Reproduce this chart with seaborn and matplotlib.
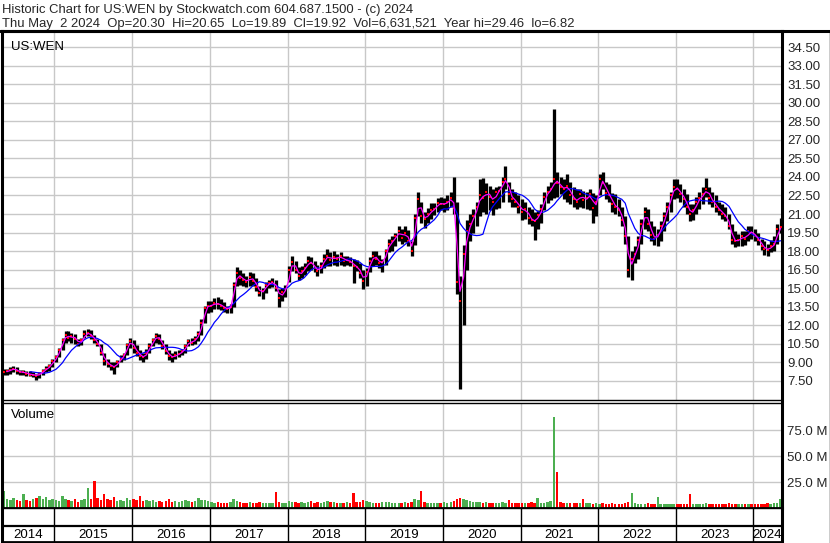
import numpy as np
import pandas as pd
import matplotlib
matplotlib.use("Agg")
import matplotlib.pyplot as plt
import matplotlib.dates as mdates
from matplotlib.lines import Line2D
import seaborn as sns

sns.set_theme(style="white")
plt.rcParams['font.family'] = ['Liberation Sans', 'DejaVu Sans']

# ---------------- data (semi-monthly periods from 2014-05-01) ----------------
period_start = "2014-05-01"

low = [
    # 2014
    8.0, 8.0, 8.1, 8.2, 8.1, 8.0, 8.0, 7.9, 7.9, 7.8, 7.6, 7.7, 8.0, 8.2, 8.3, 8.6,
    # 2015
    9.0, 9.4, 10.0, 10.6, 10.7, 10.6, 10.5, 10.3, 10.4, 11.0, 11.1, 10.9, 10.6, 10.3, 9.6, 8.8,
    8.6, 8.4, 8.1, 8.6, 9.0, 9.2, 9.6, 10.2,
    # 2016
    9.8, 9.5, 9.2, 9.0, 9.3, 9.8, 10.3, 10.6, 10.5, 10.1, 9.7, 9.2, 9.0, 9.3, 9.4, 9.6,
    9.8, 10.3, 10.4, 10.5, 10.7, 11.2, 12.2, 13.0,
    # 2017
    13.1, 13.3, 13.3, 13.2, 13.1, 13.0, 13.0, 13.5, 15.2, 15.3, 15.2, 15.1, 15.2, 15.2, 14.8, 14.4,
    14.1, 14.6, 15.0, 15.1, 14.8, 13.5, 14.0, 14.3,
    # 2018
    15.5, 16.4, 16.2, 15.7, 15.8, 16.1, 16.4, 16.5, 16.3, 16.0, 16.2, 16.6, 16.8, 16.8, 16.9, 16.8,
    16.9, 16.8, 16.9, 16.8, 15.4, 16.4, 15.8, 14.9,
    # 2019
    15.2, 16.3, 16.8, 16.9, 16.6, 16.3, 16.9, 17.9, 18.0, 18.4, 18.8, 18.6, 18.7, 18.4, 17.6, 18.5,
    20.8, 20.3, 19.9, 20.3, 20.6, 20.9, 21.2, 21.3,
    # 2020
    21.2, 21.3, 21.6, 21.0, 14.5, 6.82, 12.0, 16.5, 18.8, 19.5, 20.0, 20.8, 21.2, 21.0, 21.3, 20.9,
    21.4, 21.5, 22.0, 23.0, 22.0, 21.6, 21.6, 21.1,
    # 2021
    20.5, 20.6, 20.2, 20.0, 18.9, 19.8, 20.3, 21.3, 21.9, 22.1, 22.3, 22.4, 22.6, 22.2, 22.0, 21.8,
    21.6, 21.4, 21.6, 21.5, 21.4, 21.3, 20.3, 20.8,
    # 2022
    22.5, 23.0, 22.2, 22.0, 21.2, 21.0, 20.8, 20.0, 18.6, 15.9, 15.7, 17.0, 17.4, 18.6, 19.8, 19.6,
    18.8, 18.5, 18.4, 18.8, 19.6, 20.4, 21.2, 22.2,
    # 2023
    22.3, 22.0, 21.6, 21.0, 20.4, 20.5, 21.0, 21.4, 21.8, 22.4, 21.8, 21.6, 21.2, 20.9, 20.6, 20.4,
    19.8, 18.6, 18.3, 18.4, 18.4, 18.5, 18.8, 19.0,
    # 2024
    18.8, 18.5, 18.1, 17.7, 17.6, 17.9, 18.0, 18.6, 19.5,
]

high = [
    # 2014
    8.5, 8.5, 8.6, 8.7, 8.6, 8.4, 8.4, 8.3, 8.3, 8.2, 8.1, 8.2, 8.5, 8.7, 8.9, 9.3,
    # 2015
    9.6, 10.2, 11.0, 11.5, 11.5, 11.4, 11.3, 10.9, 11.0, 11.6, 11.7, 11.6, 11.2, 10.9, 10.5, 9.8,
    9.3, 9.0, 9.0, 9.2, 9.6, 9.8, 10.6, 11.0,
    # 2016
    10.8, 10.4, 10.0, 9.8, 10.1, 10.6, 11.0, 11.4, 11.3, 10.8, 10.5, 10.0, 9.8, 9.9, 10.0, 10.1,
    10.5, 10.9, 11.0, 11.1, 11.5, 12.5, 13.6, 14.0,
    # 2017
    14.0, 14.2, 14.3, 14.1, 13.9, 13.6, 13.7, 15.5, 16.7, 16.5, 16.2, 16.0, 16.3, 16.2, 15.8, 15.2,
    15.0, 15.5, 15.7, 15.8, 15.7, 14.9, 15.0, 15.3,
    # 2018
    16.8, 17.6, 17.2, 16.7, 16.8, 17.0, 17.6, 17.5, 17.2, 16.9, 17.1, 17.8, 18.2, 17.9, 18.0, 17.8,
    17.9, 17.6, 17.6, 17.5, 17.4, 17.3, 17.0, 16.5,
    # 2019
    16.6, 17.5, 18.0, 18.0, 17.7, 17.4, 18.2, 19.0, 19.2, 19.5, 20.0, 19.8, 20.0, 19.7, 18.8, 21.0,
    22.8, 22.0, 21.2, 21.5, 21.9, 21.9, 22.3, 22.4,
    # 2020
    22.3, 22.5, 22.8, 24.0, 22.0, 16.0, 18.5, 20.5, 21.0, 21.4, 22.0, 23.8, 23.9, 23.5, 23.3, 23.0,
    23.2, 23.3, 24.0, 24.9, 23.6, 23.0, 22.8, 22.5,
    # 2021
    22.2, 22.0, 21.6, 21.4, 21.2, 21.3, 21.8, 22.8, 23.3, 23.6, 29.46, 24.4, 24.0, 23.8, 24.2, 23.6,
    23.2, 23.0, 23.0, 22.9, 22.8, 23.0, 22.7, 22.5,
    # 2022
    24.2, 24.4, 23.6, 23.4, 22.7, 22.6, 22.2, 21.6, 20.8, 19.2, 18.0, 18.4, 19.2, 20.6, 21.6, 21.4,
    20.4, 20.0, 19.8, 20.4, 21.2, 22.0, 22.8, 23.8,
    # 2023
    23.8, 23.4, 23.0, 22.6, 21.8, 21.8, 22.4, 22.8, 23.2, 23.9, 23.2, 22.8, 22.5, 22.0, 21.8, 21.6,
    21.0, 20.2, 19.6, 19.4, 19.6, 19.6, 20.0, 20.0,
    # 2024
    19.8, 19.5, 19.0, 18.8, 18.6, 18.9, 19.2, 20.2, 20.65,
]

close = [
    # 2014
    8.2, 8.3, 8.4, 8.5, 8.3, 8.2, 8.2, 8.1, 8.0, 8.0, 7.9, 8.1, 8.3, 8.5, 8.7, 9.1,
    # 2015
    9.4, 10.0, 10.8, 11.2, 11.0, 11.1, 10.9, 10.5, 10.8, 11.3, 11.4, 11.1, 10.8, 10.5, 9.8, 9.1,
    8.9, 8.7, 8.6, 9.0, 9.3, 9.6, 10.4, 10.7,
    # 2016
    10.2, 9.8, 9.5, 9.4, 9.8, 10.3, 10.8, 11.1, 10.9, 10.3, 9.9, 9.5, 9.4, 9.6, 9.7, 9.9,
    10.3, 10.7, 10.6, 10.9, 11.3, 12.2, 13.4, 13.6,
    # 2017
    13.6, 13.8, 13.7, 13.6, 13.4, 13.3, 13.5, 15.3, 16.2, 15.8, 15.7, 15.5, 15.9, 15.6, 15.1, 14.6,
    14.8, 15.3, 15.4, 15.5, 15.0, 14.2, 14.7, 14.9,
    # 2018
    16.5, 17.1, 16.5, 16.0, 16.4, 16.6, 17.2, 17.0, 16.6, 16.4, 16.8, 17.4, 17.6, 17.3, 17.5, 17.4,
    17.6, 17.2, 17.3, 17.1, 16.8, 16.7, 16.2, 15.6,
    # 2019
    16.3, 17.2, 17.6, 17.4, 17.0, 17.1, 18.0, 18.6, 18.8, 19.2, 19.6, 19.1, 19.5, 18.8, 18.0, 20.7,
    22.2, 20.8, 20.6, 21.0, 21.3, 21.4, 21.9, 21.8,
    # 2020
    21.8, 22.0, 22.3, 21.5, 15.5, 14.0, 17.8, 19.6, 20.2, 20.8, 21.6, 22.5, 22.3, 22.8, 22.4, 22.0,
    22.8, 22.9, 23.6, 23.8, 22.6, 22.2, 22.0, 21.6,
    # 2021
    21.2, 21.4, 20.7, 20.5, 20.4, 20.9, 21.4, 22.4, 22.8, 23.0, 23.8, 23.5, 23.2, 23.0, 23.3, 22.5,
    22.2, 22.0, 22.6, 22.1, 22.3, 22.6, 21.5, 22.0,
    # 2022
    23.8, 23.5, 22.7, 22.5, 21.8, 21.6, 21.3, 20.5, 19.2, 16.5, 17.4, 17.8, 18.9, 20.2, 21.2, 20.2,
    19.3, 19.0, 19.3, 20.0, 20.8, 21.6, 22.5, 23.2,
    # 2023
    23.0, 22.6, 22.2, 21.6, 21.0, 21.3, 22.0, 22.3, 22.6, 23.0, 22.3, 22.0, 21.6, 21.3, 21.0, 20.8,
    20.0, 18.9, 18.8, 18.9, 19.2, 19.0, 19.6, 19.5,
    # 2024
    19.2, 18.9, 18.4, 18.2, 18.1, 18.4, 18.6, 19.8, 19.92,
]

volume_m = [
    # 2014
    16, 9, 8, 10, 8, 7, 13, 8, 7, 9, 10, 12, 9, 11, 8, 9,
    # 2015
    8, 7, 12, 9, 8, 7, 9, 6, 8, 9, 19.5, 9, 25.6, 10, 8, 13, 9, 8, 11, 7, 8, 7, 10, 8,
    # 2016
    9, 8, 12, 7, 8, 7, 8, 6, 7, 6, 7, 9, 6, 7, 6, 7, 8, 7, 6, 7, 10, 8, 8, 7,
    # 2017
    6, 5, 6, 5, 5, 5, 6, 9, 7, 6, 5, 5, 6, 5, 5, 6, 5, 5, 5, 5, 15.6, 6, 5, 5,
    # 2018
    7, 6, 6, 5, 6, 5, 6, 7, 5, 6, 5, 6, 7, 6, 6, 5, 5, 5, 6, 5, 14.8, 6, 6, 8,
    # 2019
    7, 6, 5, 5, 5, 6, 6, 6, 5, 5, 5, 5, 6, 5, 6, 9, 8, 16.7, 6, 5, 5, 5, 5, 5,
    # 2020
    6, 5, 6, 7, 9, 10, 9, 8, 7, 6, 6, 6, 5, 6, 5, 5, 5, 5, 6, 5, 8, 5, 5, 5,
    # 2021
    5, 5, 5, 6, 5, 10, 5, 5, 6, 7, 88, 35, 6, 5, 5, 5, 5, 5, 5, 9, 5, 5, 4, 5,
    # 2022
    4, 5, 4, 4, 5, 4, 4, 4, 5, 6, 14.5, 5, 4, 4, 4, 5, 4, 4, 11, 4, 4, 4, 4, 4,
    # 2023
    4, 4, 4, 4, 13, 4, 4, 4, 4, 5, 4, 4, 4, 4, 4, 4, 5, 4, 4, 4, 4, 4, 4, 4,
    # 2024
    4, 4, 4, 4, 5, 4, 5, 5, 8.5,
]

price_ticks = [7.5, 9.0, 10.5, 12.0, 13.5, 15.0, 16.5, 18.0, 19.5, 21.0, 22.5,
               24.0, 25.5, 27.0, 28.5, 30.0, 31.5, 33.0, 34.5]
volume_ticks = [25, 50, 75]
years = list(range(2014, 2025))

header1 = "Historic Chart for US:WEN by Stockwatch.com 604.687.1500 - (c) 2024"
header2 = ("Thu May  2 2024  Op=20.30  Hi=20.65  Lo=19.89  Cl=19.92  "
           "Vol=6,631,521  Year hi=29.46  lo=6.82")

# ---------------- frame ----------------
n = len(close)
dates = pd.date_range(period_start, periods=n, freq="SMS") + pd.Timedelta(days=7)
df = pd.DataFrame({"date": dates, "low": low, "high": high, "close": close,
                   "vol": volume_m})
df["ma_short"] = df["close"].rolling(2).mean()
df["ma_long"] = df["close"].rolling(9).mean()
df["up"] = df["close"].diff().fillna(0) >= 0
df["xnum"] = mdates.date2num(df["date"])

W, H = 830, 543
fig = plt.figure(figsize=(W / 100, H / 100), dpi=100)
fig.patch.set_facecolor("white")

x_left = pd.Timestamp("2014-04-27")
x_right = pd.Timestamp("2024-05-12")
year_starts = [pd.Timestamp(f"{y}-01-01") for y in years[1:]]

ax_p = fig.add_axes([1.5 / W, 1 - 400 / H, 780 / W, 369 / H])
ax_v = fig.add_axes([1.5 / W, 1 - 508 / H, 780 / W, 105 / H])
ax_y = fig.add_axes([1.5 / W, 1 - 542 / H, 780 / W, 34 / H])

grid_c = "#c8c8c8"
for ax in (ax_p, ax_v, ax_y):
    ax.set_facecolor("white")
    for s in ax.spines.values():
        s.set_color("black")
        s.set_linewidth(1.0)
    ax.spines["left"].set_linewidth(2.2)
    ax.spines["right"].set_linewidth(2.2)

# ---- price panel ----
for ys in price_ticks:
    ax_p.axhline(ys, color=grid_c, lw=1.0, zorder=0)

ax_p.vlines(df["date"], df["low"], df["high"], color="black", lw=2.35, zorder=2)
sns.scatterplot(data=df, x="date", y="close", ax=ax_p, marker="s", s=3.5,
                color="red", linewidth=0, zorder=3, legend=False)
sns.lineplot(data=df, x="date", y="ma_long", ax=ax_p, color="#0000ff", lw=0.9,
             zorder=4, legend=False)
sns.lineplot(data=df, x="date", y="ma_short", ax=ax_p, color="#ff00ff", lw=0.9,
             zorder=5, legend=False)
for d in year_starts:
    ax_p.axvline(d, color=grid_c, lw=1.0, zorder=0)
ax_p.set_xlim(x_left, x_right)

ax_p.set_ylim(5.96, 35.8)
ax_p.yaxis.tick_right()
ax_p.set_yticks(price_ticks)
ax_p.set_yticklabels([f"{v:.2f}" for v in price_ticks], fontsize=9.5)
ax_p.tick_params(axis="y", length=0, pad=4)
ax_p.set_xticks([])
ax_p.set_xlabel("")
ax_p.set_ylabel("")
ax_p.spines["top"].set_linewidth(2.2)
ax_p.text(9 / 780, 1 - 10 / 369, "US:WEN", transform=ax_p.transAxes,
          fontsize=9.5, va="top", ha="left", color="black")

# ---- volume panel (numeric date axis) ----
for ys in volume_ticks:
    ax_v.axhline(ys, color=grid_c, lw=1.0, zorder=0)
for d in year_starts:
    ax_v.axvline(mdates.date2num(d), color=grid_c, lw=1.0, zorder=0)
colors = np.where(df["up"], "#4caf50", "#ff0000")
order = np.argsort(-df["vol"].values)
ax_v.bar(df["xnum"].values[order], df["vol"].values[order], width=11.5,
         color=colors[order], linewidth=0, zorder=2)
ax_v.set_xlim(mdates.date2num(x_left), mdates.date2num(x_right))
ax_v.set_ylim(0, 101)
ax_v.yaxis.tick_right()
ax_v.set_yticks(volume_ticks)
ax_v.set_yticklabels([f"{v:.1f} M" for v in volume_ticks], fontsize=9.5)
ax_v.tick_params(axis="y", length=0, pad=4)
ax_v.set_xticks([])
ax_v.text(9 / 780, 1 - 6 / 105, "Volume", transform=ax_v.transAxes,
          fontsize=9.5, va="top", ha="left", color="black")
ax_v.spines["bottom"].set_linewidth(2.0)

# ---- year strip ----
xl, xr = mdates.date2num(x_left), mdates.date2num(x_right)
ys_num = [mdates.date2num(d) for d in year_starts]
ax_y.set_xlim(xl, xr)
ax_y.set_ylim(0, 1)
ax_y.set_xticks([])
ax_y.set_yticks([])
ax_y.vlines(ys_num, 0, 1, color="black", lw=1.0)
ax_y.axhline(0.47, color="black", lw=1.6)
ax_y.spines["bottom"].set_linewidth(2.0)
bounds = [xl] + ys_num + [xr]
for y, a, b in zip(years, bounds[:-1], bounds[1:]):
    ax_y.text((a + b) / 2, 0.22, str(y), ha="center", va="center",
              fontsize=9.5, color="black")

# ---- header and outer frame ----
fig.text(2 / W, 1 - 13.5 / H, header1, fontsize=9.4, ha="left", va="baseline")
fig.text(2 / W, 1 - 27.5 / H, header2, fontsize=9.4, ha="left", va="baseline")
fig.add_artist(Line2D([0, 1], [1 - 30.5 / H] * 2, color="black", lw=2.2,
                      transform=fig.transFigure))
fig.add_artist(Line2D([1 - 0.5 / W] * 2, [0, 1 - 30.5 / H], color="black", lw=1.0,
                      transform=fig.transFigure))

fig.savefig("out.png", dpi=100, facecolor="white")
